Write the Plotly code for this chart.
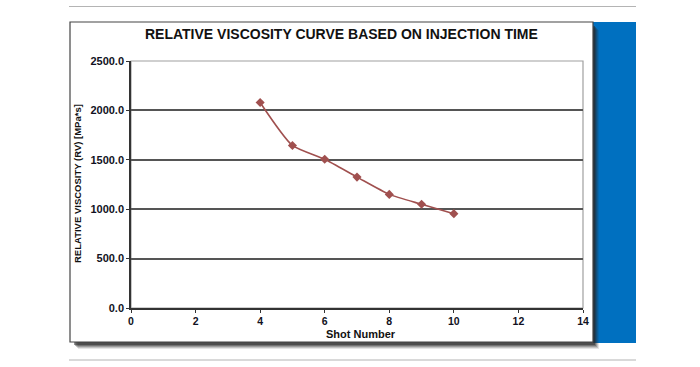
import plotly.graph_objects as go

shot_number = [4, 5, 6, 7, 8, 9, 10]
relative_viscosity = [2080, 1645, 1505, 1325, 1150, 1050, 955]
y_tick_values = [0, 500, 1000, 1500, 2000, 2500]
x_tick_values = [0, 2, 4, 6, 8, 10, 12, 14]

W, H = 700, 367

def px(x):
    return x / W

def py(y):
    return (H - y) / H

fig = go.Figure()
fig.add_trace(go.Scatter(
    x=shot_number, y=relative_viscosity, mode="lines+markers",
    line=dict(color="#A0504F", width=1.6, shape="spline", smoothing=0.6),
    marker=dict(symbol="diamond", size=7, color="#A0504F"),
    showlegend=False, hoverinfo="x+y",
))

shapes = []
shapes.append(dict(type="line", xref="paper", yref="paper", x0=px(69), x1=px(636), y0=py(6.5), y1=py(6.5),
                   line=dict(color="#b4b4b4", width=1.2), layer="below"))
shapes.append(dict(type="line", xref="paper", yref="paper", x0=px(69), x1=px(636), y0=py(360), y1=py(360),
                   line=dict(color="#b4b4b4", width=1.2), layer="below"))
shapes.append(dict(type="rect", xref="paper", yref="paper", x0=px(593), x1=px(636), y0=py(22), y1=py(343),
                   fillcolor="#0070C0", line=dict(width=0), layer="below"))
for off, op in [(6, 0.12), (5, 0.18), (4, 0.25), (3, 0.35), (2, 0.5)]:
    shapes.append(dict(type="rect", xref="paper", yref="paper", x0=px(72 + off), x1=px(593 + off),
                       y0=py(24 + off), y1=py(343 + off),
                       fillcolor="rgba(40,40,40,%s)" % op, line=dict(width=0), layer="below"))
shapes.append(dict(type="rect", xref="paper", yref="paper", x0=px(70), x1=px(593), y0=py(22), y1=py(342),
                   fillcolor="white", line=dict(color="#444444", width=1.2), layer="below"))
shapes.append(dict(type="rect", xref="paper", yref="paper", x0=px(131), x1=px(583), y0=py(61), y1=py(308),
                   fillcolor="rgba(0,0,0,0)", line=dict(color="#a0a0a0", width=1.2), layer="below"))

y_tick_font = dict(family="Liberation Sans, Arial", size=11, color="#111122", weight="bold")
x_tick_font = dict(family="Liberation Sans, Arial", size=10.5, color="#111122", weight="bold")

fig.update_layout(
    width=W, height=H,
    margin=dict(l=0, r=0, t=0, b=0, pad=0, autoexpand=False),
    paper_bgcolor="white", plot_bgcolor="rgba(0,0,0,0)",
    shapes=shapes,
    xaxis=dict(domain=[px(131), px(583)], range=[0, 14], tickvals=x_tick_values, automargin=False,
               showgrid=False, zeroline=False, showline=True, linecolor="#333333", linewidth=1.5,
               ticks="outside", ticklen=3, tickcolor="#333333", tickfont=x_tick_font, anchor="y",
               ticklabelstandoff=0),
    yaxis=dict(domain=[py(308), py(61)], range=[0, 2500], tickvals=y_tick_values, tickformat=".1f",
               automargin=False,
               showgrid=True, gridcolor="#555555", gridwidth=2, zeroline=False,
               showline=True, linecolor="#333333", linewidth=1.5,
               ticks="outside", ticklen=3, tickcolor="#333333", tickfont=y_tick_font, anchor="x"),
    font=dict(family="Liberation Sans, Arial"),
    annotations=[
        dict(text="<b>RELATIVE VISCOSITY CURVE BASED ON INJECTION TIME</b>", xref="paper", yref="paper",
             x=px(341), y=py(34), xanchor="center", yanchor="middle", showarrow=False,
             font=dict(family="Liberation Sans, Arial", size=14, color="#111111")),
        dict(text="<b>Shot Number</b>", xref="paper", yref="paper",
             x=px(361), y=py(333.5), xanchor="center", yanchor="middle", showarrow=False,
             font=dict(family="Liberation Sans, Arial", size=11, color="#111111")),
        dict(text="<b>RELATIVE VISCOSITY (RV) [MPa*s]</b>", xref="paper", yref="paper",
             x=px(77), y=py(184), xanchor="center", yanchor="middle", showarrow=False, textangle=-90,
             font=dict(family="Liberation Sans, Arial", size=9.5, color="#111111")),
    ],
)

fig.write_html("out.html", config={"displayModeBar": False},
               post_script="document.body.style.margin='0';document.body.style.overflow='hidden';")
